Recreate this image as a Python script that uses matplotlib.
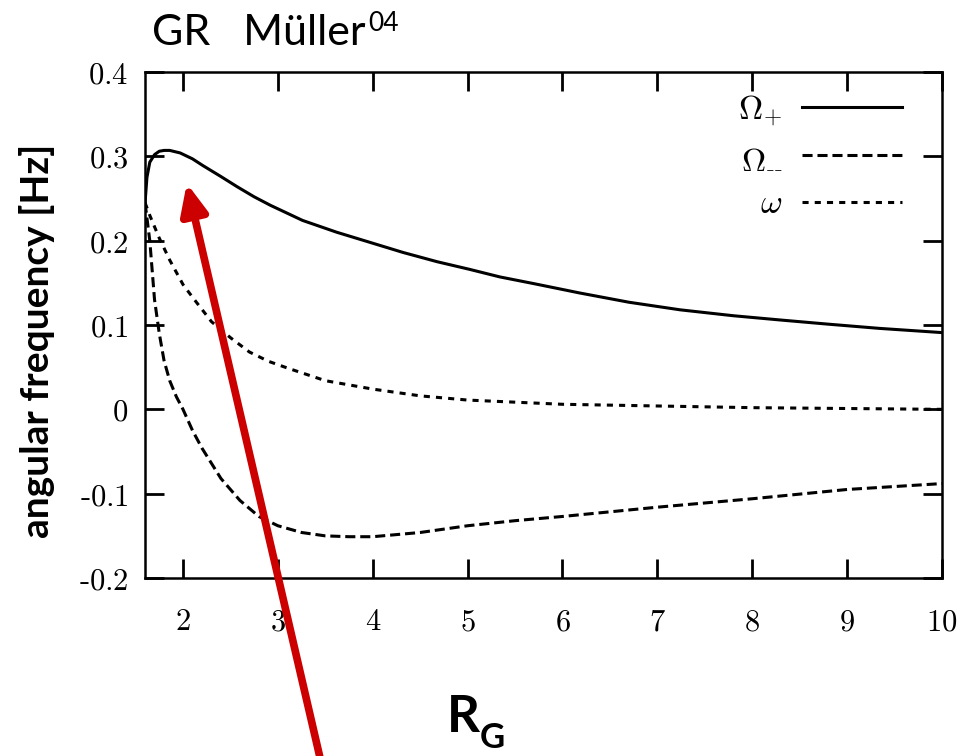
import matplotlib
matplotlib.use("Agg")
import matplotlib.pyplot as plt
from matplotlib.ticker import FuncFormatter

plt.rcParams['mathtext.fontset'] = 'cm'

# curves
x_plus = [1.6, 1.62, 1.65, 1.7, 1.75, 1.8, 1.86, 1.97, 2.1, 2.21, 2.4, 2.57, 2.75, 2.92, 3.26, 3.62, 3.97,
          4.32, 4.68, 5.02, 5.34, 5.7, 6.18, 6.7, 7.24, 7.8, 8.29, 8.8, 9.34, 10.0]
omega_plus = [0.245, 0.275, 0.293, 0.302, 0.306, 0.307, 0.307, 0.304, 0.297, 0.289, 0.276, 0.264, 0.252, 0.242,
              0.224, 0.210, 0.198, 0.186, 0.175, 0.166, 0.157, 0.149, 0.138, 0.127, 0.118, 0.111, 0.106, 0.101,
              0.096, 0.091]

x_minus = [1.6, 1.65, 1.7, 1.75, 1.8, 1.86, 1.93, 2.0, 2.1, 2.2, 2.4, 2.6, 2.8, 3.0, 3.25, 3.5, 3.75, 4.0, 4.5,
           5.0, 5.5, 6.0, 7.0, 8.0, 9.0, 10.0]
omega_minus = [0.245, 0.20, 0.13, 0.09, 0.058, 0.034, 0.015, 0.0, -0.025, -0.046, -0.082, -0.108, -0.127, -0.138,
               -0.146, -0.150, -0.151, -0.151, -0.146, -0.138, -0.132, -0.127, -0.116, -0.106, -0.095, -0.088]

x_omega = [1.6, 1.65, 1.75, 1.86, 2.0, 2.1, 2.3, 2.5, 2.7, 2.9, 3.1, 3.5, 4.0, 4.5, 5.0, 6.0, 7.0, 8.0, 9.0, 10.0]
omega = [0.245, 0.230, 0.203, 0.177, 0.148, 0.133, 0.104, 0.085, 0.068, 0.057, 0.049, 0.034, 0.024, 0.016, 0.011,
         0.006, 0.004, 0.002, 0.001, 0.0]

x_ticks = [2, 3, 4, 5, 6, 7, 8, 9, 10]
y_ticks = [-0.2, -0.1, 0, 0.1, 0.2, 0.3, 0.4]


def tick_fmt(v, p):
    s = f'{v:g}'
    if s.startswith('-'):
        return r'$\text{-}' + s[1:] + '$'
    return f'${s}$'


fig = plt.figure(figsize=(9.58, 7.56), dpi=100)
ax = fig.add_axes([0.1514, 0.2354, 0.8319, 0.6694])

lw = 2.2
ax.plot(x_plus, omega_plus, color='black', lw=lw, label=r'$\Omega_{+}$')
ax.plot(x_minus, omega_minus, color='black', lw=lw, linestyle=(0, (3.3, 1.6)), label=r'$\Omega_{\text{--}}$')
ax.plot(x_omega, omega, color='black', lw=lw, linestyle=(0, (2.0, 2.0)), label=r'$\omega$')

ax.set_xlim(1.6, 10)
ax.set_ylim(-0.2, 0.4)
ax.set_xticks(x_ticks)
ax.set_yticks(y_ticks)
ax.xaxis.set_major_formatter(FuncFormatter(tick_fmt))
ax.yaxis.set_major_formatter(FuncFormatter(tick_fmt))
ax.tick_params(direction='in', length=14, width=2, top=True, right=True, labelsize=22)
ax.tick_params(axis='x', pad=21)
ax.tick_params(axis='y', pad=12)
for s in ax.spines.values():
    s.set_linewidth(1.8)

ax.legend(loc='upper right', bbox_to_anchor=(0.9585, 0.9723), frameon=False, markerfirst=False,
          fontsize=24, handlelength=3.0, handletextpad=0.6, labelspacing=0.4,
          borderaxespad=0.0, borderpad=0.2)

# title and axis labels
t = fig.text(152 / 958, 1 - 45 / 756, 'GR   Müller', family='Lato', fontsize=31, va='baseline', ha='left')
ax.annotate('04', xy=(1.0, 1.0), xycoords=t, xytext=(2, 2), textcoords='offset points',
            family='Lato', fontsize=19, va='top', ha='left')

fig.text(37 / 958, 1 - 341 / 756, 'angular frequency [Hz]', family='Lato', fontweight='bold',
         fontsize=28, rotation=90, ha='center', va='center')

fig.text(447 / 958, 1 - 732 / 756, 'R', family='Lato', fontweight='bold', fontsize=37,
         ha='left', va='baseline')
fig.text(480 / 958, 1 - 748 / 756, 'G', family='Lato', fontweight='bold', fontsize=25,
         ha='left', va='baseline')

# red arrow pointing at the peak
ax.annotate('', xy=(2.04, 0.268), xycoords='data', xytext=(0.336, -0.013),
            textcoords='figure fraction', annotation_clip=False,
            arrowprops=dict(arrowstyle='-|>,head_length=1.8,head_width=0.8', color='#cc0000',
                            lw=5.5, mutation_scale=10, shrinkA=0, shrinkB=0), zorder=10)

fig.savefig('out.png', dpi=100)
